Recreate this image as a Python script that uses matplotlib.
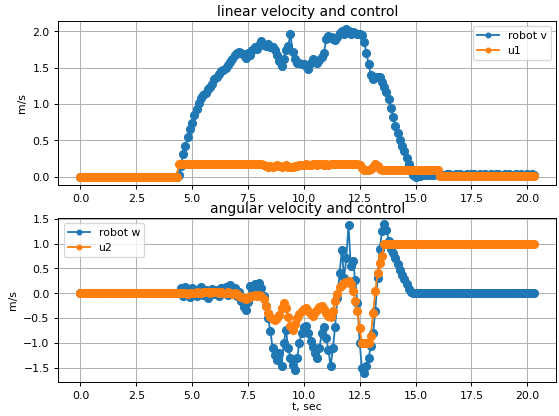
import numpy as np
import matplotlib
matplotlib.use("Agg")
import matplotlib.pyplot as plt
from matplotlib.ticker import MultipleLocator

plt.rcParams['font.size'] = 9

# sample times (s), 0.1 s grid from 0.0 to 20.3
t = np.round(np.arange(204) * 0.1, 1)

robot_v = [
    0.0, 0.0, 0.0, 0.0, 0.0, 0.0, 0.0, 0.0, 0.0, 0.0,
    0.0, 0.0, 0.0, 0.0, 0.0, 0.0, 0.0, 0.0, 0.0, 0.0,
    0.0, 0.0, 0.0, 0.0, 0.0, 0.0, 0.0, 0.0, 0.0, 0.0,
    0.0, 0.0, 0.0, 0.0, 0.0, 0.0, 0.0, 0.0, 0.0, 0.0,
    0.0, 0.0, 0.0, 0.0, 0.03,
    0.15, 0.32, 0.43, 0.55, 0.66,
    0.74, 0.85, 0.93, 1.01, 1.08, 1.13, 1.16, 1.21, 1.24, 1.28,
    1.34, 1.38, 1.41, 1.45, 1.47, 1.50, 1.54, 1.58, 1.62, 1.68,
    1.71, 1.72, 1.70, 1.68, 1.64, 1.70, 1.67, 1.74, 1.78, 1.76,
    1.82, 1.87, 1.82, 1.80, 1.83, 1.78, 1.79, 1.74, 1.68, 1.60,
    1.53, 1.62, 1.75, 1.80, 1.96, 1.72, 1.62, 1.57, 1.56, 1.55,
    1.55, 1.52, 1.48, 1.56, 1.62, 1.58, 1.57, 1.61, 1.65, 1.70,
    1.90, 1.94, 1.93, 1.90, 1.88, 1.93, 1.98, 2.00, 1.97, 2.03,
    2.00, 1.96, 1.99, 1.98, 1.97, 1.97, 1.95, 1.86, 1.71, 1.55,
    1.40, 1.34, 1.37, 1.38, 1.37, 1.31, 1.24, 1.17, 1.07, 0.95,
    0.82, 0.70, 0.60, 0.51, 0.43, 0.35, 0.26, 0.17, 0.08, 0.03,
    0.00,
    0.01, 0.01, 0.02, 0.03, 0.03, 0.04, 0.03, 0.03, 0.04, 0.03,
    0.04, 0.03, 0.03, 0.04, 0.04, 0.03, 0.03, 0.04, 0.03, 0.04,
    0.03, 0.03, 0.04, 0.03, 0.04, 0.04, 0.03, 0.03, 0.04, 0.03,
    0.04, 0.03, 0.03, 0.04, 0.03, 0.04, 0.04, 0.03, 0.03, 0.04,
    0.03, 0.04, 0.03, 0.03, 0.04, 0.03, 0.04, 0.03, 0.03, 0.04,
    0.03, 0.04, 0.03,
]

u1 = [
    0.0, 0.0, 0.0, 0.0, 0.0, 0.0, 0.0, 0.0, 0.0, 0.0,
    0.0, 0.0, 0.0, 0.0, 0.0, 0.0, 0.0, 0.0, 0.0, 0.0,
    0.0, 0.0, 0.0, 0.0, 0.0, 0.0, 0.0, 0.0, 0.0, 0.0,
    0.0, 0.0, 0.0, 0.0, 0.0, 0.0, 0.0, 0.0, 0.0, 0.0,
    0.0, 0.0, 0.0, 0.0,
    0.17, 0.17, 0.17, 0.17, 0.17, 0.17, 0.17, 0.17, 0.17, 0.17,
    0.17, 0.17, 0.17, 0.17, 0.17, 0.17, 0.17, 0.17, 0.17, 0.17,
    0.17, 0.17, 0.17, 0.17, 0.17, 0.17, 0.17, 0.17, 0.17, 0.17,
    0.17, 0.17, 0.17, 0.17, 0.17, 0.17, 0.17, 0.17,
    0.16, 0.15, 0.14, 0.15, 0.14, 0.15, 0.16, 0.15,
    0.14, 0.15, 0.16, 0.14, 0.13, 0.14, 0.15, 0.15, 0.16, 0.16,
    0.16, 0.17, 0.16, 0.16, 0.17, 0.17, 0.16, 0.17, 0.17, 0.16,
    0.17, 0.16, 0.17, 0.17, 0.18, 0.17, 0.18, 0.18, 0.17, 0.18,
    0.18, 0.17, 0.18, 0.17, 0.17, 0.16, 0.12, 0.09, 0.09, 0.10,
    0.11, 0.14, 0.18, 0.15, 0.11, 0.10, 0.10, 0.10, 0.10, 0.10,
    0.10, 0.10, 0.10, 0.10, 0.10, 0.10, 0.10, 0.10, 0.10, 0.10,
    0.10, 0.10, 0.10, 0.10, 0.10, 0.10, 0.10, 0.10, 0.10, 0.10,
    0.10,
    0.01, 0.01, 0.01, 0.01, 0.01, 0.01, 0.01, 0.01, 0.01, 0.01,
    0.01, 0.01, 0.01, 0.01, 0.01, 0.01, 0.01, 0.01, 0.01, 0.01,
    0.01, 0.01, 0.01, 0.01, 0.01, 0.01, 0.01, 0.01, 0.01, 0.01,
    0.01, 0.01, 0.01, 0.01, 0.01, 0.01, 0.01, 0.01, 0.01, 0.01,
    0.01, 0.01, 0.01,
]

robot_w = [
    0.0, 0.0, 0.0, 0.0, 0.0, 0.0, 0.0, 0.0, 0.0, 0.0,
    0.0, 0.0, 0.0, 0.0, 0.0, 0.0, 0.0, 0.0, 0.0, 0.0,
    0.0, 0.0, 0.0, 0.0, 0.0, 0.0, 0.0, 0.0, 0.0, 0.0,
    0.0, 0.0, 0.0, 0.0, 0.0, 0.0, 0.0, 0.0, 0.0, 0.0,
    0.0, 0.0, 0.0, 0.0, 0.0,
    0.10, -0.05, 0.12, 0.02, -0.08,
    0.10, 0.05, -0.06, 0.08, 0.12, -0.04, 0.06, -0.10, 0.04, 0.09,
    -0.02, 0.07, -0.06, 0.10, 0.03, 0.12, -0.03, 0.16, 0.05, 0.10,
    -0.05, 0.02, -0.15, -0.28, -0.33, -0.18, 0.15, 0.08, 0.18, 0.12,
    0.20, 0.10, -0.05, -0.26, -0.50, -0.75, -1.10, -1.25, -1.35, -1.20,
    -1.47, -1.00, -0.74, -1.10, -1.30, -1.45, -1.55, -1.30, -1.00, -0.80,
    -0.67, -0.65, -0.80, -0.95, -1.07, -1.20, -1.30, -1.10, -0.80, -0.67,
    -0.90, -1.14, -1.47, -1.10, -0.67, -0.10, 0.40, 0.87, 0.30, 0.70,
    1.38, 0.55, 0.64, 0.27, -0.20, -1.00, -1.50, -1.60, -1.47, -1.30,
    -1.05, -0.80, -0.35, 0.30, 0.90, 1.25, 1.40, 1.28, 1.05, 0.90,
    0.80, 0.70, 0.58, 0.47, 0.37, 0.28, 0.18, 0.09, 0.02, 0.00,
    0.0, 0.0, 0.0, 0.0, 0.0, 0.0, 0.0, 0.0, 0.0, 0.0,
    0.0, 0.0, 0.0, 0.0, 0.0, 0.0, 0.0, 0.0, 0.0, 0.0,
    0.0, 0.0, 0.0, 0.0, 0.0, 0.0, 0.0, 0.0, 0.0, 0.0,
    0.0, 0.0, 0.0, 0.0, 0.0, 0.0, 0.0, 0.0, 0.0, 0.0,
    0.0, 0.0, 0.0, 0.0, 0.0, 0.0, 0.0, 0.0, 0.0, 0.0,
    0.0, 0.0, 0.0, 0.0,
]

u2 = [
    0.0, 0.0, 0.0, 0.0, 0.0, 0.0, 0.0, 0.0, 0.0, 0.0,
    0.0, 0.0, 0.0, 0.0, 0.0, 0.0, 0.0, 0.0, 0.0, 0.0,
    0.0, 0.0, 0.0, 0.0, 0.0, 0.0, 0.0, 0.0, 0.0, 0.0,
    0.0, 0.0, 0.0, 0.0, 0.0, 0.0, 0.0, 0.0, 0.0, 0.0,
    0.0, 0.0, 0.0, 0.0, 0.0,
    0.0, 0.01, 0.0, -0.01, 0.0,
    0.01, 0.0, 0.02, 0.01, 0.0, 0.02, 0.03, 0.02, 0.01, 0.02,
    0.03, 0.02, 0.01, 0.02, 0.0, 0.01, 0.02, 0.0, -0.01, 0.0,
    -0.02, -0.05, -0.08, -0.10, -0.12, -0.09, -0.06, -0.05, -0.04, -0.05,
    -0.03, -0.05, -0.12, -0.26, -0.40, -0.48, -0.52, -0.53, -0.50, -0.43,
    -0.30, -0.20, -0.30, -0.48, -0.65, -0.73, -0.62, -0.50, -0.42, -0.36,
    -0.32, -0.30, -0.35, -0.42, -0.45, -0.38, -0.33, -0.28, -0.26, -0.32,
    -0.40, -0.46, -0.48, -0.35, -0.15, -0.02, 0.12, 0.17, 0.20, 0.23,
    0.24, 0.18, 0.05, -0.15, -0.35, -0.70, -1.00, -1.00, -1.00, -1.00,
    -0.85, -0.40, 0.05, 0.40, 0.60, 0.75, 1.00, 1.00, 1.00, 1.00,
    1.00, 1.00, 1.00, 1.00, 1.00, 1.00, 1.00, 1.00, 1.00, 1.00,
    1.00, 1.00, 1.00, 1.00, 1.00, 1.00, 1.00, 1.00, 1.00, 1.00,
    1.00, 1.00, 1.00, 0.99, 0.99, 0.99, 1.00, 1.00, 1.00, 1.00,
    1.00, 1.00, 0.99, 0.99, 0.99, 0.99, 1.00, 1.00, 1.00, 1.00,
    1.00, 1.00, 1.00, 1.00, 1.00, 1.00, 1.00, 1.00, 1.00, 1.00,
    1.00, 1.00, 1.00, 1.00, 1.00, 1.00, 1.00, 1.00, 1.00, 1.00,
    1.00, 1.00, 1.00, 1.00,
]

for name, arr in [("robot_v", robot_v), ("u1", u1), ("robot_w", robot_w), ("u2", u2)]:
    assert len(arr) == len(t), (name, len(arr))

fig = plt.figure(figsize=(6.4, 4.765), dpi=87.35)
ax1 = fig.add_subplot(2, 1, 1)
ax2 = fig.add_subplot(2, 1, 2)
fig.subplots_adjust(left=0.104, right=0.995, top=0.95, bottom=0.082, hspace=0.2)

MS = 6.5
ax1.plot(t, robot_v, 'o-', ms=MS, label='robot v')
ax1.plot(t, u1, 'o-', ms=MS, label='u1')
ax1.set_title('linear velocity and control', fontsize=11.5, pad=4)
ax1.set_ylabel('m/s')
ax1.grid(True)
ax1.legend(loc='upper right', markerscale=0.6)
ax1.set_xlim(-1.0, 21.3)
ax1.set_ylim(-0.11, 2.15)
ax1.yaxis.set_major_locator(MultipleLocator(0.5))

ax2.plot(t, robot_w, 'o-', ms=MS, label='robot w')
ax2.plot(t, u2, 'o-', ms=MS, label='u2')
ax2.set_title('angular velocity and control', fontsize=11.5, pad=4)
ax2.set_ylabel('m/s')
ax2.set_xlabel('t, sec', labelpad=1)
ax2.grid(True)
ax2.legend(loc='upper left', markerscale=0.6)
ax2.set_xlim(-1.0, 21.3)
ax2.set_ylim(-1.78, 1.52)
ax2.yaxis.set_major_locator(MultipleLocator(0.5))

fig.savefig('out.png', dpi=87.35)
